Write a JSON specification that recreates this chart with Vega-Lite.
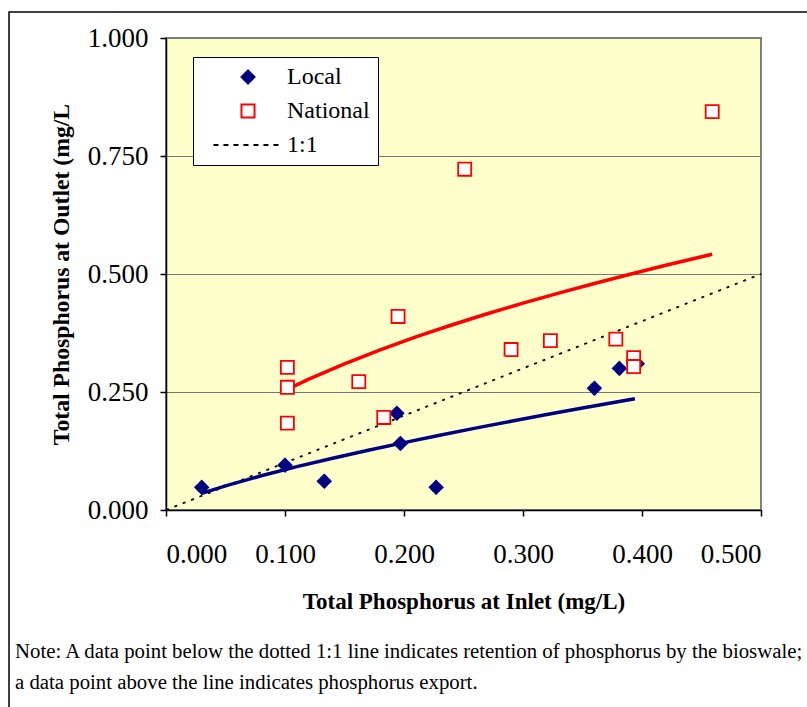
{
  "$schema": "https://vega.github.io/schema/vega-lite/v6.json",
  "autosize": {"type": "none"},
  "padding": {"left": 166, "top": 38, "right": 46, "bottom": 197},
  "width": 595,
  "height": 472,
  "background": "white",
  "config": {
    "font": "Liberation Serif",
    "view": {"fill": "#FFFFCC", "stroke": "#808080", "strokeWidth": 2},
    "axis": {
      "labelFont": "Liberation Serif",
      "titleFont": "Liberation Serif",
      "labelColor": "black",
      "titleColor": "black",
      "domainColor": "black",
      "domainWidth": 1.5,
      "tickColor": "black",
      "tickWidth": 1.5,
      "tickSize": 6
    }
  },
  "datasets": {
    "points": [
      {"series": "Local", "inlet": 0.030, "outlet": 0.048},
      {"series": "Local", "inlet": 0.100, "outlet": 0.095},
      {"series": "Local", "inlet": 0.133, "outlet": 0.061},
      {"series": "Local", "inlet": 0.194, "outlet": 0.205},
      {"series": "Local", "inlet": 0.197, "outlet": 0.141},
      {"series": "Local", "inlet": 0.227, "outlet": 0.048},
      {"series": "Local", "inlet": 0.360, "outlet": 0.258},
      {"series": "Local", "inlet": 0.381, "outlet": 0.300},
      {"series": "Local", "inlet": 0.396, "outlet": 0.310},
      {"series": "National", "inlet": 0.102, "outlet": 0.302},
      {"series": "National", "inlet": 0.102, "outlet": 0.260},
      {"series": "National", "inlet": 0.102, "outlet": 0.184},
      {"series": "National", "inlet": 0.162, "outlet": 0.272},
      {"series": "National", "inlet": 0.183, "outlet": 0.196},
      {"series": "National", "inlet": 0.195, "outlet": 0.410},
      {"series": "National", "inlet": 0.251, "outlet": 0.722},
      {"series": "National", "inlet": 0.290, "outlet": 0.340},
      {"series": "National", "inlet": 0.323, "outlet": 0.359},
      {"series": "National", "inlet": 0.378, "outlet": 0.362},
      {"series": "National", "inlet": 0.393, "outlet": 0.323},
      {"series": "National", "inlet": 0.393, "outlet": 0.304},
      {"series": "National", "inlet": 0.459, "outlet": 0.844}
    ],
    "trend": [
      {"series": "National", "inlet": 0.102, "outlet": 0.2555},
      {"series": "National", "inlet": 0.120, "outlet": 0.2771},
      {"series": "National", "inlet": 0.150, "outlet": 0.3098},
      {"series": "National", "inlet": 0.180, "outlet": 0.3394},
      {"series": "National", "inlet": 0.210, "outlet": 0.3666},
      {"series": "National", "inlet": 0.240, "outlet": 0.3919},
      {"series": "National", "inlet": 0.270, "outlet": 0.4157},
      {"series": "National", "inlet": 0.300, "outlet": 0.4382},
      {"series": "National", "inlet": 0.330, "outlet": 0.4596},
      {"series": "National", "inlet": 0.360, "outlet": 0.4800},
      {"series": "National", "inlet": 0.390, "outlet": 0.4996},
      {"series": "National", "inlet": 0.420, "outlet": 0.5185},
      {"series": "National", "inlet": 0.459, "outlet": 0.5420},
      {"series": "Local", "inlet": 0.030, "outlet": 0.0351},
      {"series": "Local", "inlet": 0.050, "outlet": 0.0512},
      {"series": "Local", "inlet": 0.080, "outlet": 0.0725},
      {"series": "Local", "inlet": 0.110, "outlet": 0.0918},
      {"series": "Local", "inlet": 0.140, "outlet": 0.1097},
      {"series": "Local", "inlet": 0.170, "outlet": 0.1267},
      {"series": "Local", "inlet": 0.200, "outlet": 0.1428},
      {"series": "Local", "inlet": 0.230, "outlet": 0.1584},
      {"series": "Local", "inlet": 0.260, "outlet": 0.1734},
      {"series": "Local", "inlet": 0.290, "outlet": 0.1880},
      {"series": "Local", "inlet": 0.320, "outlet": 0.2022},
      {"series": "Local", "inlet": 0.350, "outlet": 0.2161},
      {"series": "Local", "inlet": 0.394, "outlet": 0.2359}
    ],
    "oneToOne": [
      {"inlet": 0.0, "outlet": 0.0},
      {"inlet": 0.5, "outlet": 0.5}
    ],
    "note": [
      {"line": 1, "text": "Note: A data point below the dotted 1:1 line indicates retention of phosphorus by the bioswale;"},
      {"line": 2, "text": "a data point above the line indicates phosphorus export."}
    ]
  },
  "layer": [
    {
      "data": {"values": [{"x1": -0.13193, "x2": 0.7, "y1": 1.0551, "y2": -0.45}]},
      "mark": {"type": "rect", "fill": null, "fillOpacity": 0, "stroke": "black", "strokeWidth": 1.5, "clip": false},
      "encoding": {
        "x": {"field": "x1", "type": "quantitative", "scale": {"domain": [0, 0.5], "nice": false, "zero": false}},
        "x2": {"field": "x2"},
        "y": {"field": "y1", "type": "quantitative", "scale": {"domain": [0, 1], "nice": false, "zero": false}},
        "y2": {"field": "y2"}
      }
    },
    {
      "data": {"name": "oneToOne"},
      "mark": {"type": "line", "color": "black", "strokeWidth": 1.8, "strokeDash": [3, 6]},
      "encoding": {
        "x": {
          "field": "inlet", "type": "quantitative",
          "scale": {"domain": [0, 0.5], "nice": false, "zero": false},
          "axis": {
            "values": [0, 0.1, 0.2, 0.3, 0.4, 0.5],
            "format": ".3f",
            "grid": false,
            "labelFontSize": 27,
            "labelPadding": 25,
            "title": "Total Phosphorus at Inlet (mg/L)",
            "titleFontSize": 23,
            "titleFontWeight": "bold",
            "titlePadding": 23
          }
        },
        "y": {
          "field": "outlet", "type": "quantitative",
          "scale": {"domain": [0, 1], "nice": false, "zero": false},
          "axis": {
            "values": [0, 0.25, 0.5, 0.75, 1.0],
            "format": ".3f",
            "grid": true,
            "gridColor": "#777777",
            "gridWidth": 1.2,
            "labelFontSize": 27,
            "labelPadding": 12,
            "title": "Total Phosphorus at Outlet (mg/L",
            "titleFontSize": 23.7,
            "titleFontWeight": "bold",
            "titlePadding": 14
          }
        }
      }
    },
    {
      "data": {"name": "trend"},
      "transform": [{"filter": "datum.series === 'National'"}],
      "mark": {"type": "line", "color": "#FF0000", "strokeWidth": 3.5},
      "encoding": {
        "x": {"field": "inlet", "type": "quantitative"},
        "y": {"field": "outlet", "type": "quantitative"}
      }
    },
    {
      "data": {"name": "trend"},
      "transform": [{"filter": "datum.series === 'Local'"}],
      "mark": {"type": "line", "color": "#000080", "strokeWidth": 3.5},
      "encoding": {
        "x": {"field": "inlet", "type": "quantitative"},
        "y": {"field": "outlet", "type": "quantitative"}
      }
    },
    {
      "data": {"name": "points"},
      "mark": {"type": "point", "size": 170, "strokeWidth": 1.8, "opacity": 1, "filled": false},
      "encoding": {
        "x": {"field": "inlet", "type": "quantitative"},
        "y": {"field": "outlet", "type": "quantitative"},
        "shape": {
          "field": "series", "type": "nominal",
          "scale": {"domain": ["Local", "National", "1:1"], "range": ["diamond", "square", "M-5.3,0H5.3"]},
          "legend": {
            "title": null,
            "orient": "none",
            "legendX": 27,
            "legendY": 19,
            "fillColor": "white",
            "strokeColor": "black",
            "padding": 8,
            "labelFont": "Liberation Serif",
            "labelFontSize": 24,
            "labelColor": "black",
            "labelExpr": "datum.label + '\u00a0\u00a0\u00a0'",
            "symbolSize": 170,
            "symbolStrokeWidth": 2,
            "symbolOffset": 35,
            "labelOffset": 27,
            "rowPadding": 10
          }
        },
        "fill": {
          "field": "series", "type": "nominal",
          "scale": {"domain": ["Local", "National", "1:1"], "range": ["#000080", "#FFFFFF", "transparent"]}
        },
        "stroke": {
          "field": "series", "type": "nominal",
          "scale": {"domain": ["Local", "National", "1:1"], "range": ["#000080", "#FF0000", "#000000"]}
        },
        "strokeDash": {
          "field": "series", "type": "nominal",
          "scale": {"domain": ["Local", "National", "1:1"], "range": [[1, 0], [1, 0], [5, 5]]}
        }
      }
    },
    {
      "mark": {"type": "text", "fontSize": 20, "align": "right", "baseline": "middle", "color": "black"},
      "encoding": {
        "x": {"datum": 0.3546, "type": "quantitative"},
        "y": {"datum": 0.606, "type": "quantitative"},
        "text": {"value": "y = 0.80x"}
      }
    },
    {
      "mark": {"type": "text", "fontSize": 13, "align": "left", "baseline": "middle", "color": "black"},
      "encoding": {
        "x": {"datum": 0.3546, "type": "quantitative"},
        "y": {"datum": 0.631, "type": "quantitative"},
        "text": {"value": "0.50"}
      }
    },
    {
      "mark": {"type": "text", "fontSize": 20, "align": "center", "baseline": "middle", "color": "black"},
      "encoding": {
        "x": {"datum": 0.331, "type": "quantitative"},
        "y": {"datum": 0.540, "type": "quantitative"},
        "text": {"value": "R² = 0.18"}
      }
    },
    {
      "mark": {"type": "text", "fontSize": 20, "align": "right", "baseline": "middle", "color": "black"},
      "encoding": {
        "x": {"datum": 0.409, "type": "quantitative"},
        "y": {"datum": 0.142, "type": "quantitative"},
        "text": {"value": "y = 0.47x"}
      }
    },
    {
      "mark": {"type": "text", "fontSize": 13, "align": "left", "baseline": "middle", "color": "black"},
      "encoding": {
        "x": {"datum": 0.409, "type": "quantitative"},
        "y": {"datum": 0.163, "type": "quantitative"},
        "text": {"value": "0.74"}
      }
    },
    {
      "mark": {"type": "text", "fontSize": 20, "align": "center", "baseline": "middle", "color": "black"},
      "encoding": {
        "x": {"datum": 0.385, "type": "quantitative"},
        "y": {"datum": 0.0805, "type": "quantitative"},
        "text": {"value": "R² = 0.60"}
      }
    },
    {
      "data": {"name": "note"},
      "transform": [{"filter": "datum.line === 1"}],
      "mark": {"type": "text", "fontSize": 20.8, "align": "left", "baseline": "middle", "color": "black", "clip": false},
      "encoding": {
        "x": {"datum": -0.1269, "type": "quantitative"},
        "y": {"datum": -0.3008, "type": "quantitative"},
        "text": {"field": "text"}
      }
    },
    {
      "data": {"name": "note"},
      "transform": [{"filter": "datum.line === 2"}],
      "mark": {"type": "text", "fontSize": 20.8, "align": "left", "baseline": "middle", "color": "black", "clip": false},
      "encoding": {
        "x": {"datum": -0.1269, "type": "quantitative"},
        "y": {"datum": -0.3665, "type": "quantitative"},
        "text": {"field": "text"}
      }
    }
  ]
}
